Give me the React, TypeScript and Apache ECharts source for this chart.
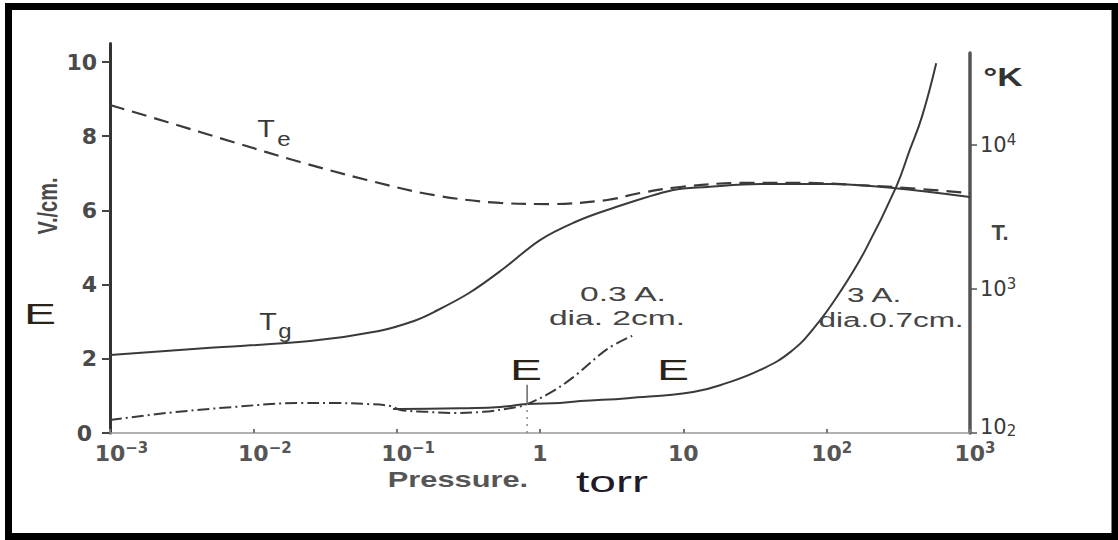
import React, { useEffect, useRef } from "react";
import * as echarts from "echarts";

// Axis ticks (labels split into base and exponent)
const pressureTicks = [0.001, 0.01, 0.1, 1, 10, 100, 1000];
const pressureTickBase = ["10", "10", "10", "1", "10", "10", "10"];
const pressureTickExp = ["−3", "−2", "−1", "", "", "2", "3"];
const fieldTicks = [0, 2, 4, 6, 8, 10];
const tempTicks = [100, 1000, 10000];
const tempTickBase = ["10", "10", "10"];
const tempTickExp = ["2", "3", "4"];

// Electron temperature Te (°K) vs pressure (torr)
const tePressure = [0.001, 0.0025, 0.0072, 0.0212, 0.062, 0.179, 0.527, 1.175, 2.94, 5.0, 9.5, 24.9, 73.1, 163, 291, 1000];
const teKelvin = [18960, 14450, 10500, 7620, 5715, 4500, 3960, 3890, 4150, 4640, 5110, 5450, 5450, 5275, 5110, 4640];

// Gas temperature Tg (°K)
const tgPressure = [0.001, 0.00475, 0.0249, 0.0753, 0.132, 0.182, 0.32, 0.552, 1.0, 1.76, 2.94, 8.49, 14.7, 34.4, 105.7, 291, 1000];
const tgKelvin = [348, 389, 435, 511, 600, 692, 938, 1377, 2188, 2918, 3538, 4870, 5110, 5360, 5360, 5030, 4355];

// Field E (V/cm), 0.3 A, dia. 2 cm
const eSmallPressure = [0.001, 0.0025, 0.0072, 0.0212, 0.036, 0.062, 0.09, 0.106, 0.163, 0.236, 0.4, 0.692, 0.813, 1.175, 1.7, 2.94, 4.4];
const eSmallField = [0.35, 0.54, 0.7, 0.81, 0.81, 0.78, 0.73, 0.62, 0.57, 0.54, 0.57, 0.7, 0.78, 1.08, 1.5, 2.26, 2.62];

// Field E (V/cm), 3 A, dia. 0.7 cm
const eLargePressure = [0.0944, 0.106, 0.31, 0.527, 0.813, 1.38, 1.905, 4.1, 11.7, 20.2, 34.4, 55.7, 82.7, 124, 186, 305, 380, 464, 581];
const eLargeField = [0.65, 0.65, 0.67, 0.7, 0.78, 0.81, 0.86, 0.94, 1.105, 1.35, 1.7, 2.18, 2.86, 3.8, 4.93, 6.63, 7.63, 8.55, 9.97];

// Marker at the junction point E
const markerPressure = 0.813;
const markerLow = [0, 0.78];
const markerHigh = [0.78, 1.3];

const pairs = (xs: number[], ys: number[]) => xs.map((x, i) => [x, ys[i]]);

const findTick = (ticks: number[], v: number) =>
  ticks.findIndex((t) => Math.abs(Math.log10(t) - Math.log10(v)) < 1e-6);

type TxtOpts = { size: number; color?: string; family?: string; weight?: string; sx?: number; sy?: number; rot?: number };
const txt = (text: string, x: number, y: number, o: TxtOpts) => ({
  type: "text",
  x,
  y,
  scaleX: o.sx ?? 1,
  scaleY: o.sy ?? 1,
  rotation: o.rot ?? 0,
  z: 100,
  style: {
    text,
    fill: o.color ?? "#444",
    fontSize: o.size,
    fontFamily: o.family ?? "Liberation Sans",
    fontWeight: o.weight ?? "normal",
    align: "center",
    verticalAlign: "middle",
  },
});

export default function App() {
  const ref = useRef<HTMLDivElement>(null);

  useEffect(() => {
    document.body.style.margin = "0";
    const chart = echarts.init(ref.current!, null, { renderer: "svg" });
    const curve = "#3a3a3a";
    const fam = "DejaVu Sans";
    const xl = { fontSize: 22, fontFamily: fam, fontWeight: "bold", color: "#555", lineHeight: 26 };
    const option: any = {
      animation: false,
      backgroundColor: "#ffffff",
      grid: [
        { left: 110, right: 148, top: 43.5, bottom: 107 },
        { left: 110, right: 148, top: 53, bottom: 107 },
      ],
      xAxis: [
        {
          type: "log",
          gridIndex: 0,
          logBase: 10,
          min: 0.001,
          max: 1000,
          axisLine: { show: true, onZero: false, lineStyle: { color: "#9a9a9a", width: 1.5 } },
          axisTick: { show: true, inside: true, length: 4, customValues: pressureTicks, lineStyle: { color: "#777", width: 2 } },
          axisLabel: {
            customValues: pressureTicks,
            formatter: (v: number) => {
              const i = findTick(pressureTicks, v);
              if (i < 0) return "";
              const e = pressureTickExp[i];
              if (!e) return `{b|${pressureTickBase[i]}}`;
              return `{${e.length > 1 ? "bm" : "bp"}|${pressureTickBase[i]}}{s|${e}}`;
            },
            margin: 7,
            rich: {
              b: { ...xl },
              bm: { ...xl, padding: [0, 0, 0, 23] },
              bp: { ...xl, padding: [0, 0, 0, 10] },
              s: { fontSize: 15, fontFamily: fam, fontWeight: "bold", color: "#555", lineHeight: 17, verticalAlign: "top" },
            },
          },
          splitLine: { show: false },
        },
        { type: "log", gridIndex: 1, logBase: 10, min: 0.001, max: 1000, show: false },
      ],
      yAxis: [
        {
          type: "value",
          gridIndex: 0,
          position: "left",
          min: 0,
          max: 10.5,
          axisLine: { show: true, onZero: false, lineStyle: { color: "#333", width: 3 } },
          axisTick: { show: true, length: 8, customValues: fieldTicks, lineStyle: { color: "#444", width: 2 } },
          axisLabel: {
            customValues: fieldTicks,
            margin: 13,
            formatter: (v: number) => (v === 0 ? `{z|${v}}` : `{n|${v}}`),
            rich: {
              n: { fontSize: 22, fontFamily: fam, fontWeight: "bold", color: "#4a4a4a", lineHeight: 18 },
              z: { fontSize: 22, fontFamily: fam, fontWeight: "bold", color: "#4a4a4a", lineHeight: 16, padding: [0, 5, 0, 0] },
            },
          },
          splitLine: { show: false },
        },
        {
          type: "log",
          gridIndex: 1,
          position: "right",
          logBase: 10,
          min: 100,
          max: 43550,
          axisLine: { show: true, onZero: false, lineStyle: { color: "#555", width: 3.5 } },
          axisTick: { show: true, length: 7, customValues: tempTicks, lineStyle: { color: "#555", width: 1.5 } },
          axisLabel: {
            customValues: tempTicks,
            formatter: (v: number) => {
              const i = findTick(tempTicks, v);
              if (i < 0) return "";
              const b = i === 0 ? "lo" : "b";
              return `{${b}|${tempTickBase[i]}}{s|${tempTickExp[i]}}`;
            },
            margin: 10,
            rich: {
              b: { fontSize: 21, fontFamily: fam, color: "#3a3a3a", lineHeight: 26 },
              lo: { fontSize: 21, fontFamily: fam, color: "#3a3a3a", lineHeight: 20, padding: [0, 0, 12, 0] },
              s: { fontSize: 15, fontFamily: fam, color: "#3a3a3a", lineHeight: 15, verticalAlign: "top" },
            },
          },
          splitLine: { show: false },
        },
      ],
      series: [
        {
          name: "Tg",
          type: "line",
          xAxisIndex: 1,
          yAxisIndex: 1,
          data: pairs(tgPressure, tgKelvin),
          smooth: 0.35,
          symbol: "none",
          lineStyle: { color: curve, width: 2 },
        },
        {
          name: "Te",
          type: "line",
          xAxisIndex: 1,
          yAxisIndex: 1,
          data: pairs(tePressure, teKelvin),
          smooth: 0.35,
          symbol: "none",
          lineStyle: { color: curve, width: 2.2, type: [15, 8] },
        },
        {
          name: "E 0.3 A",
          type: "line",
          xAxisIndex: 0,
          yAxisIndex: 0,
          data: pairs(eSmallPressure, eSmallField),
          smooth: 0.35,
          symbol: "none",
          lineStyle: { color: curve, width: 2, type: [12, 4, 2, 4] },
        },
        {
          name: "E 3 A",
          type: "line",
          xAxisIndex: 0,
          yAxisIndex: 0,
          data: pairs(eLargePressure, eLargeField),
          smooth: 0.45,
          symbol: "none",
          lineStyle: { color: curve, width: 2 },
        },
        {
          name: "marker low",
          type: "line",
          xAxisIndex: 0,
          yAxisIndex: 0,
          data: markerLow.map((v) => [markerPressure, v]),
          symbol: "none",
          lineStyle: { color: "#888", width: 1.5, type: [2, 5] },
        },
        {
          name: "marker high",
          type: "line",
          xAxisIndex: 0,
          yAxisIndex: 0,
          data: markerHigh.map((v) => [markerPressure, v]),
          symbol: "none",
          lineStyle: { color: "#666", width: 1.5 },
        },
      ],
      graphic: [
        {
          type: "rect",
          shape: { x: 8.5, y: 6.5, width: 1106.5, height: 530 },
          style: { fill: "none", stroke: "#000", lineWidth: 7 },
          z: 100,
        },
        txt("V./cm.", 47, 206, { size: 20, weight: "bold", color: "#4a4a4a", rot: Math.PI / 2, sy: 1.4 }),
        txt("E", 40, 314, { size: 30, color: "#2a2418", sx: 1.6 }),
        txt("T", 266, 129, { size: 24, color: "#3a3a3a", sx: 1.2 }),
        txt("e", 284, 139, { size: 20, color: "#3a3a3a", sx: 1.2 }),
        txt("T", 268, 322, { size: 24, color: "#3a3a3a", sx: 1.2 }),
        txt("g", 285, 331, { size: 20, color: "#3a3a3a", sx: 1.2 }),
        txt("0.3 A.", 623, 294, { size: 21, sx: 1.6 }),
        txt("dia. 2cm.", 617, 318, { size: 21, sx: 1.6 }),
        txt("3 A.", 874, 295, { size: 21, sx: 1.5 }),
        txt("dia.0.7cm.", 891, 320, { size: 21, sx: 1.5 }),
        txt("E", 526, 370, { size: 30, color: "#2a2418", sx: 1.6 }),
        txt("E", 673, 370, { size: 30, color: "#2a2418", sx: 1.6 }),
        txt("°K", 1003, 77, { size: 26, weight: "bold", color: "#333", sx: 1.35 }),
        txt("T.", 1000, 232, { size: 22, weight: "bold", color: "#444" }),
        txt("Pressure.", 458, 480, { size: 22, weight: "bold", color: "#555", sx: 1.4 }),
        txt("torr", 612, 482, { size: 30, color: "#201a28", sx: 1.6 }),
      ],
    };
    chart.setOption(option);
    return () => chart.dispose();
  }, []);

  return <div ref={ref} style={{ width: 1118, height: 540 }} />;
}
